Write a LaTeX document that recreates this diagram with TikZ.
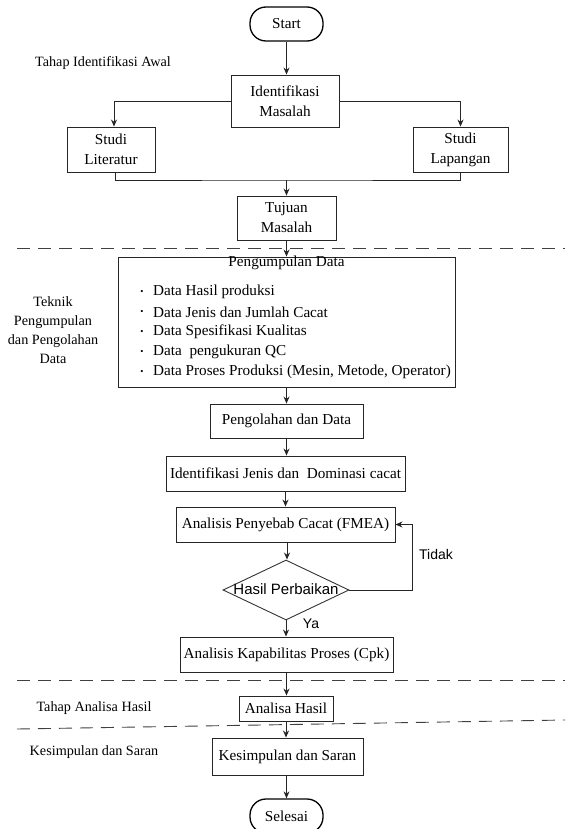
\documentclass[tikz,border=0pt]{standalone}
\usepackage{fontspec}
\setmainfont{Liberation Serif}
\newfontfamily\arialf{Liberation Sans}
\usetikzlibrary{arrows.meta,shapes.geometric,calc}
\begin{document}
\begin{tikzpicture}[x=1pt,y=-1pt,
  every node/.style={font=\fontsize{15.2}{20}\selectfont,text=black},
  box/.style={draw=black!85,line width=0.9pt,inner sep=0pt,align=center},
  term/.style={draw=black,line width=1.3pt,inner sep=0pt,rounded corners=16pt,minimum width=73pt,minimum height=34pt},
  dec/.style={draw=black!80,line width=0.9pt,diamond,inner sep=0pt,minimum width=126pt,minimum height=60pt,aspect=2.1},
  conn/.style={line width=0.9pt,draw=black!85,-{Stealth[length=7pt,width=6pt]}},
  plain/.style={line width=0.9pt,draw=black!85},
  sep/.style={line width=0.9pt,draw=black!75,dash pattern=on 13pt off 8pt},
  lbl/.style={align=center,text=black,font=\fontsize{14.2}{19}\selectfont},
  sanslbl/.style={font=\arialf\fontsize{14}{17}\selectfont}
]
\useasboundingbox (0,0) rectangle (565,829);
\begin{scope}
\clip (0,0) rectangle (565,829);

% nodes
\node[term] (start) at (286.5,24) {Start};
\node[lbl] (l1) at (103,63) {Tahap Identifikasi Awal};
\node[box,minimum width=108pt,minimum height=52pt] (ident) at (285,101) {Identifikasi\\Masalah};
\node[box,minimum width=88pt,minimum height=45pt] (lit) at (111,149.5) {Studi\\Literatur};
\node[box,minimum width=95pt,minimum height=45pt] (lap) at (460.5,149.5) {Studi\\Lapangan};
\coordinate (merge) at (286.5,180);
\node[box,minimum width=99pt,minimum height=44pt] (tuj) at (286.5,218) {Tujuan\\Masalah};

\node[box,minimum width=337pt,minimum height=130pt] (peng) at (286.5,322) {};
\node (pengt) at (286.5,263) {Pengumpulan Data};
\foreach \i/\t/\yy in {1/{Data Hasil produksi}/292,2/{Data Jenis dan Jumlah Cacat}/312,3/{Data Spesifikasi Kualitas}/332,4/{Data\ \ pengukuran QC}/352,5/{Data Proses Produksi (Mesin, Metode, Operator)}/372}{
  \node[anchor=west,inner sep=0pt] (bt\i) at (153,\yy) {\t};
  \node[inner sep=0pt] (bb\i) at (142,\yy) {\fontsize{9}{9}\selectfont\textbullet};
}
\node[lbl] (l2) at (53,330) {Teknik\\Pengumpulan\\dan Pengolahan\\Data};

\node[box,minimum width=153pt,minimum height=34pt] (olah) at (286.5,421) {Pengolahan dan Data};
\node[box,minimum width=239pt,minimum height=35pt] (jenis) at (285.5,473.5) {Identifikasi Jenis dan\ \ Dominasi cacat};
\node[box,minimum width=219pt,minimum height=35pt] (fmea) at (285.5,524.5) {Analisis Penyebab Cacat (FMEA)};
\node[dec] (dia) at (286,590) {};
\node[sanslbl,font=\arialf\fontsize{15}{17}\selectfont] (diat) at (286,589) {Hasil Perbaikan};
\node[sanslbl] (tidak) at (436,554) {Tidak};
\node[sanslbl] (ya) at (311,624) {Ya};
\node[box,minimum width=213pt,minimum height=35pt] (cpk) at (286.5,654.5) {Analisis Kapabilitas Proses (Cpk)};
\node[box,minimum width=94pt,minimum height=25pt] (analisa) at (286,708.5) {Analisa Hasil};
\node[lbl] (l3) at (94,708) {Tahap Analisa Hasil};
\node[box,minimum width=151pt,minimum height=37pt] (kes) at (287.5,756.5) {Kesimpulan dan Saran};
\node[lbl] (l4) at (94,752) {Kesimpulan dan Saran};
\node[term] (selesai) at (286.5,816) {Selesai};

% separators
\coordinate (s1a) at (17,248); \coordinate (s1b) at (565,248);
\coordinate (s2a) at (17,680); \coordinate (s2b) at (565,680);
\coordinate (s3a) at (17,729); \coordinate (s3b) at (565,720);
\draw[sep] (s1a) -- (s1b);
\draw[sep] (s2a) -- (s2b);
\draw[sep] (s3a) -- (s3b);

% helper coordinates
\coordinate (litin) at ($(lit.north)+(3,0)$);
\coordinate (litout) at ($(lit.south)+(4,0)$);
\coordinate (fmeaout) at ($(fmea.south)+(1.5,0)$);
\coordinate (kesout) at ($(kes.south)+(-1,0)$);
\coordinate (loop) at ($(dia.east)+(63,0)$);

% connectors
\draw[conn] (start.south) -- (start.south |- ident.north);
\draw[conn] (ident.west) -| (litin);
\draw[conn] (ident.east) -| (lap.north);
\draw[plain] (litout) |- (merge) -| (lap.south);
\draw[conn] (merge) -- (merge |- tuj.north);
\draw[conn] (tuj.south) -- (tuj.south |- peng.north);
\draw[conn] (peng.south) -- (peng.south |- olah.north);
\draw[conn] (olah.south) -- (olah.south |- jenis.north);
\draw[conn] (jenis.south) -- (jenis.south |- fmea.north);
\draw[conn] (fmeaout) -- (fmeaout |- dia.north);
\draw[conn] (dia.east) -- (loop) |- (fmea.east);
\draw[conn] (dia.south) -- (dia.south |- cpk.north);
\draw[conn] (cpk.south) -- (cpk.south |- analisa.north);
\draw[conn] (analisa.south) -- (analisa.south |- kes.north);
\draw[conn] (kesout) -- (kesout |- selesai.north);
\end{scope}
\end{tikzpicture}
\end{document}
